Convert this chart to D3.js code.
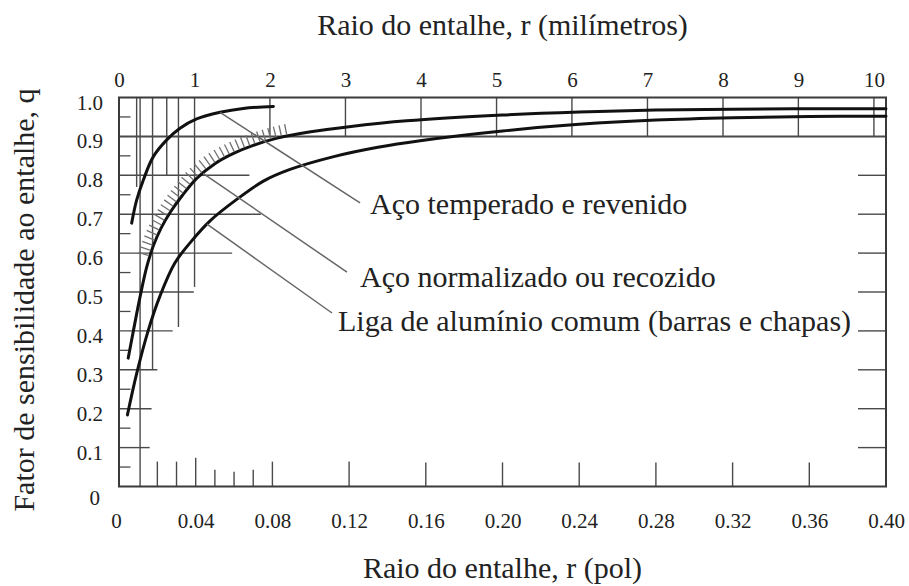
<!DOCTYPE html>
<html><head><meta charset="utf-8">
<script src="https://cdn.jsdelivr.net/npm/d3@7"></script>
<style>
body{margin:0;background:#fff;}
</style></head><body>
<svg id="chart" width="909" height="586"></svg>
<script>
// ---------- data (r in inches, q dimensionless) ----------
const rTemperado = [0.0066,0.0092,0.0127,0.0179,0.0249,0.0318,0.0405,0.0527,0.0648,0.0805];
const qTemperado = [0.677,0.736,0.788,0.848,0.891,0.921,0.945,0.962,0.972,0.977];

const rNormalizado = [0.0048,0.0075,0.011,0.0145,0.018,0.022,0.027,0.033,0.0405,0.05,0.06,0.07,0.082,0.1,0.12,0.15,0.2,0.24,0.28,0.32,0.36,0.40];
const qNormalizado = [0.33,0.40,0.488,0.565,0.62,0.665,0.707,0.748,0.792,0.83,0.857,0.877,0.895,0.912,0.925,0.94,0.955,0.963,0.968,0.970,0.971,0.971];

const rAluminio = [0.0044,0.0092,0.0153,0.0214,0.0292,0.038,0.0475,0.0614,0.0753,0.0892,0.112,0.135,0.157,0.2,0.24,0.28,0.32,0.36,0.40];
const qAluminio = [0.184,0.29,0.402,0.49,0.575,0.632,0.683,0.738,0.785,0.815,0.848,0.872,0.889,0.914,0.931,0.942,0.948,0.951,0.952];

const seriesLabels = ["Aço temperado e revenido","Aço normalizado ou recozido","Liga de alumínio comum (barras e chapas)"];

const xTickValuesIn = [0,0.04,0.08,0.12,0.16,0.20,0.24,0.28,0.32,0.36,0.40];
const xTickLabelsIn = ["0","0.04","0.08","0.12","0.16","0.20","0.24","0.28","0.32","0.36","0.40"];
const mmTickValues = [0,1,2,3,4,5,6,7,8,9,10];
const yTickValues = [0,0.1,0.2,0.3,0.4,0.5,0.6,0.7,0.8,0.9,1.0];
const yTickLabels = ["0","0.1","0.2","0.3","0.4","0.5","0.6","0.7","0.8","0.9","1.0"];

const xTitleTop = "Raio do entalhe, r (milímetros)";
const xTitleBottom = "Raio do entalhe, r (pol)";
const yTitle = "Fator de sensibilidade ao entalhe, q";

// background chart-paper grid (data units): horizontal [q, rTo]
const hGridQ    = [0.9, 0.8, 0.7, 0.6, 0.5, 0.4, 0.3, 0.2, 0.1];
const hGridREnd = [0.40,0.068,0.074,0.059,0.039,0.028,0.020,0.017,0.016];
// vertical [r, qFrom] (up to q = 1)
const vGridR  = [0.0092,0.011,0.0175,0.0249,0.031,0.0394,0.0787,0.1181,0.1575,0.1969,0.2362,0.2756,0.3150,0.3543,0.3937];
const vGridQ0 = [0.77,0,0.30,0.80,0.41,0.513,0.9,0.9,0.9,0.9,0.9,0.9,0.9,0.9,0.9];
// minor ticks
const leftMinorQ = [0.05,0.15,0.25,0.35,0.45,0.55,0.65,0.75,0.85,0.95];
const rightTickQ = [0.1,0.2,0.3,0.4,0.5,0.6,0.7,0.8];
const bottomTickR = [0.02,0.03,0.04,0.05,0.06,0.07,0.08,0.12,0.16,0.20,0.24,0.28,0.32,0.36];
const bottomTickQ = [0.064,0.064,0.074,0.043,0.038,0.043,0.064,0.064,0.062,0.062,0.062,0.062,0.062,0.062];

// annotation anchors
const leaderStartR = [0.0527,0.0438,0.0459];
const leaderEndR = [0.1257,0.1189,0.1111];
const leaderEndQ = [0.729,0.551,0.446];
const labelR = [0.1309,0.1257,0.1142];
const labelQ = [0.7005,0.513,0.40];
const hatchFromR = 0.016, hatchToR = 0.09;

// ---------- drawing ----------
const FONT = "'Liberation Serif', 'Times New Roman', serif";
const svg = d3.select("#chart").attr("font-family", FONT);
const x = d3.scaleLinear().domain([0,0.4]).range([119,886]);
const y = d3.scaleLinear().domain([0,1]).range([486.5,97.5]);
const gridColor = "#4a4a4a";

const g = svg.append("g");

g.selectAll("line.hg").data(hGridQ).join("line")
  .attr("x1", x(0)).attr("x2",(d,i)=>x(hGridREnd[i]))
  .attr("y1", d=>y(d)).attr("y2", d=>y(d))
  .attr("stroke", gridColor).attr("stroke-width",(d,i)=>i===0?2:1.4);
g.selectAll("line.vg").data(vGridR).join("line")
  .attr("x1", d=>x(d)).attr("x2", d=>x(d))
  .attr("y1", (d,i)=>y(vGridQ0[i])).attr("y2", y(1))
  .attr("stroke", gridColor).attr("stroke-width",1.4);
g.selectAll("line.lm").data(leftMinorQ).join("line")
  .attr("x1", x(0)).attr("x2", x(0.006))
  .attr("y1", d=>y(d)).attr("y2", d=>y(d))
  .attr("stroke", gridColor).attr("stroke-width",1.3);
g.selectAll("line.rt").data(rightTickQ).join("line")
  .attr("x1", x(0.4)).attr("x2", x(0.4-0.0146))
  .attr("y1", d=>y(d)).attr("y2", d=>y(d))
  .attr("stroke", gridColor).attr("stroke-width",1.4);
g.selectAll("line.bt").data(bottomTickR).join("line")
  .attr("x1", d=>x(d)).attr("x2", d=>x(d))
  .attr("y1", y(0)).attr("y2", (d,i)=>y(bottomTickQ[i]))
  .attr("stroke", gridColor).attr("stroke-width",1.4);

g.append("rect").attr("x",x(0)).attr("y",y(1)).attr("width",x(0.4)-x(0)).attr("height",y(0)-y(1))
  .attr("fill","none").attr("stroke","#3a3a3a").attr("stroke-width",2);

const fmtIn = (d)=>xTickLabelsIn[xTickValuesIn.indexOf(d)];
const axB = svg.append("g").attr("transform",`translate(0,${y(0)})`)
  .call(d3.axisBottom(x).tickValues(xTickValuesIn).tickFormat(fmtIn).tickSize(0).tickPadding(27));
const mmToIn = d3.scaleLinear().domain([0,10]).range([x(0), x(10/25.4)]);
const axT = svg.append("g").attr("transform",`translate(0,${y(1)})`)
  .call(d3.axisTop(mmToIn).tickValues(mmTickValues).tickFormat(d3.format("d")).tickSize(0).tickPadding(11));
const axL = svg.append("g").attr("transform",`translate(103,0)`)
  .call(d3.axisLeft(y).tickValues(yTickValues).tickFormat((d,i)=>yTickLabels[i]).tickSize(0).tickPadding(0));
[axB,axT,axL].forEach(a=>{
  a.attr("font-family", FONT);
  a.select(".domain").remove();
  a.selectAll("text").attr("font-family", FONT).attr("font-size",21).attr("fill","#222");
});
axL.selectAll("text").attr("dy","0.55em");
axL.selectAll(".tick").filter(d=>d===0).select("text").attr("x",-3).attr("dy","0.85em");
axB.selectAll(".tick").filter(d=>d===0).select("text").attr("x",-3);

// curves
const line = d3.line().x(d=>x(d[0])).y(d=>y(d[1])).curve(d3.curveCatmullRom.alpha(0.5));
const seriesR = [rTemperado, rNormalizado, rAluminio];
const seriesQ = [qTemperado, qNormalizado, qAluminio];
const paths = seriesR.map((rs,k)=>g.append("path")
  .datum(rs.map((r,i)=>[r, seriesQ[k][i]]))
  .attr("d", line).attr("fill","none").attr("stroke","#111").attr("stroke-width",3)
  .attr("stroke-linecap","round"));

// hatching along the normalized-steel curve
const pB = paths[1].node();
const totalLen = pB.getTotalLength();
const hatches = [];
for (let l=0; l<totalLen; l+=5.5){
  const p = pB.getPointAtLength(l);
  if (p.x < x(hatchFromR) || p.x > x(hatchToR)) continue;
  const p2 = pB.getPointAtLength(Math.min(totalLen,l+1));
  let tx=p2.x-p.x, ty=p2.y-p.y; const n=Math.hypot(tx,ty)||1; tx/=n; ty/=n;
  const nx=ty, ny=-tx;
  hatches.push([p.x+nx*1, p.y+ny*1, p.x+nx*12, p.y+ny*12]);
}
g.selectAll("line.hatch").data(hatches).join("line")
  .attr("x1",d=>d[0]).attr("y1",d=>d[1]).attr("x2",d=>d[2]).attr("y2",d=>d[3])
  .attr("stroke","#707070").attr("stroke-width",1.3);

leaderStartR.forEach((r0,k)=>{
  const interp = d3.scaleLinear().domain(seriesR[k]).range(seriesQ[k]);
  g.append("line").attr("x1",x(r0)).attr("y1",y(interp(r0)))
    .attr("x2",x(leaderEndR[k])).attr("y2",y(leaderEndQ[k]))
    .attr("stroke","#666").attr("stroke-width",1.5);
  svg.append("text").attr("x",x(labelR[k])).attr("y",y(labelQ[k]))
    .attr("font-family", FONT).attr("font-size",30).attr("fill","#222").text(seriesLabels[k]);
});

svg.append("text").attr("x",(x(0)+x(0.4))/2).attr("y",35).attr("text-anchor","middle")
  .attr("font-family", FONT).attr("font-size",30).attr("fill","#222").text(xTitleTop);
svg.append("text").attr("x",(x(0)+x(0.4))/2).attr("y",578).attr("text-anchor","middle")
  .attr("font-family", FONT).attr("font-size",30).attr("fill","#222").text(xTitleBottom);
svg.append("text").attr("transform","translate(34,300) rotate(-90)").attr("text-anchor","middle")
  .attr("font-family", FONT).attr("font-size",30).attr("fill","#222").text(yTitle);
</script>
</body></html>
